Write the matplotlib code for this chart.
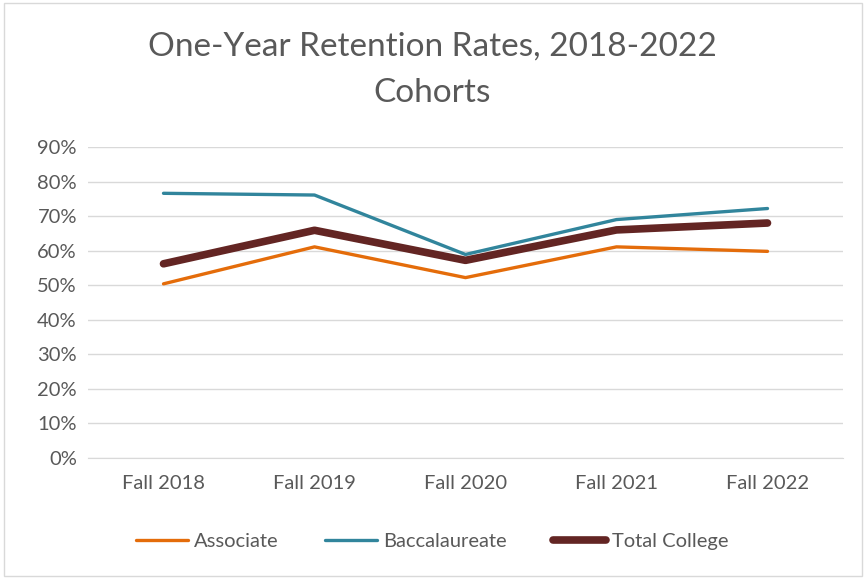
import matplotlib.pyplot as plt
from matplotlib.patches import Rectangle

# One-year retention rates by cohort
cohorts = ['Fall 2018', 'Fall 2019', 'Fall 2020', 'Fall 2021', 'Fall 2022']
associate = [0.504, 0.611, 0.522, 0.611, 0.598]
baccalaureate = [0.766, 0.761, 0.589, 0.690, 0.722]
total_college = [0.562, 0.659, 0.572, 0.660, 0.680]

plt.rcParams['font.family'] = ['Lato', 'DejaVu Sans']
txt = '#595959'

fig = plt.figure(figsize=(8.64, 5.78), dpi=100)
W, H = 864, 578
ax = fig.add_axes([88 / W, 1 - 458 / H, (843 - 88) / W, (458 - 147) / H])

x = range(len(cohorts))
ax.plot(x, associate, color='#E46C0A', lw=2.4, solid_capstyle='round', label='Associate')
ax.plot(x, baccalaureate, color='#31859C', lw=2.4, solid_capstyle='round', label='Baccalaureate')
ax.plot(x, total_college, color='#632523', lw=5.5, solid_capstyle='round', label='Total College')

ax.set_xlim(-0.5, len(cohorts) - 0.5)
ax.set_ylim(0, 0.9)
ax.set_yticks([i / 10 for i in range(10)])
ax.set_yticklabels([f'{i * 10}%' for i in range(10)])
ax.set_xticks(list(x))
ax.set_xticklabels(cohorts)
ax.tick_params(length=0, labelsize=14.5, colors=txt, pad=8)
ax.tick_params(axis='x', pad=12)
ax.grid(axis='y', color='#d9d9d9', lw=1)
ax.set_axisbelow(True)
for s in ['top', 'right', 'left']:
    ax.spines[s].set_visible(False)
ax.spines['bottom'].set_color('#d9d9d9')

fig.text(0.5, 1 - 47 / H, 'One-Year Retention Rates, 2018-2022', ha='center', va='center',
         fontsize=24, color=txt)
fig.text(0.5, 1 - 93 / H, 'Cohorts', ha='center', va='center', fontsize=24, color=txt)

fig.legend(loc='center', bbox_to_anchor=(0.5, 1 - 541 / H), ncol=3, frameon=False,
           fontsize=14.5, labelcolor=txt, handlelength=2.6, handletextpad=0.3, columnspacing=2.3)

fig.patches.append(Rectangle((4 / W, 2 / H), 858 / W, 573 / H, transform=fig.transFigure,
                             fill=False, edgecolor='#d9d9d9', lw=1))

fig.savefig('out.png', dpi=100)
